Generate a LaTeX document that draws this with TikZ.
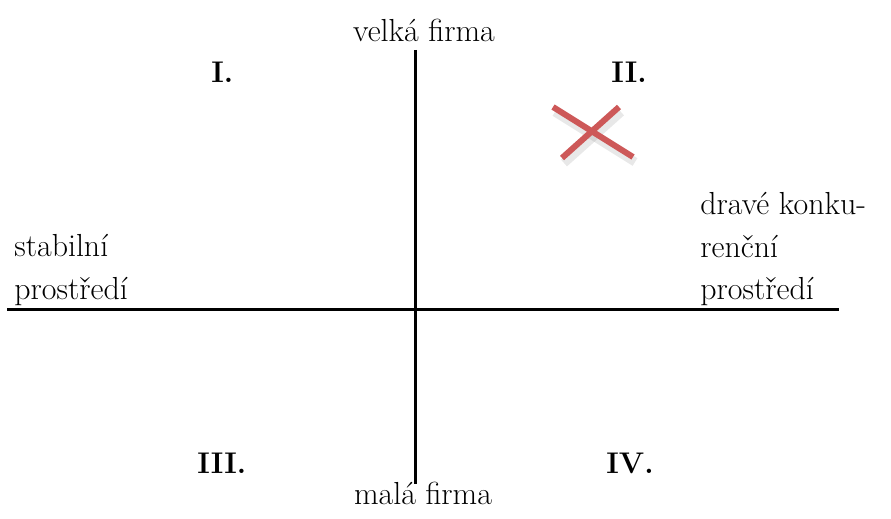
\documentclass[tikz,border=0pt]{standalone}
\usepackage{xcolor}
\definecolor{CrossRed}{HTML}{CD5858}
\definecolor{CrossShade}{HTML}{8A8A8A}
\usetikzlibrary{positioning}

\begin{document}
\begin{tikzpicture}[
  x=0.5bp,y=-0.5bp,
  axis/.style={line width=1.5bp,draw=black},
  lbl/.style={anchor=base west,inner sep=0pt,font=\fontsize{16}{19}\selectfont},
  mid/.style={lbl,anchor=base},
  quad/.style={lbl,font=\fontsize{15}{18}\selectfont\bfseries},
  cross/.style={line width=3bp,draw=CrossRed},
  crossshade/.style={line width=4.5bp,draw=CrossShade,opacity=0.2}
]
  \useasboundingbox (0,0) rectangle (891,519);
  % axes
  \coordinate (top) at (415,50);
  \coordinate (bot) at (415,484);
  \coordinate (left) at (7,310);
  \coordinate (right) at (839,310);
  \draw[axis] (left) -- (right);
  \draw[axis] (top) -- (bot);
  % axis labels
  \node[mid] (big) at (424,42) {velká firma};
  \node[mid] (small) at (423,505) {malá firma};
  \node[lbl] (stab1) at (14,257) {stabilní};
  \node[lbl] (stab2) at (14,300) {prostředí};
  \node[lbl] (drav1) at (700,215) {dravé konku-};
  \node[lbl] (drav2) at (700,258) {renční};
  \node[lbl] (drav3) at (700,300) {prostředí};
  % quadrants
  \node[quad] (q1) at (211,83) {I.};
  \node[quad] (q2) at (611,83) {II.};
  \node[quad] (q3) at (197,474) {III.};
  \node[quad] (q4) at (606,474) {IV.};
  % cross in II.
  \draw[crossshade] (555,112) -- (635,162);
  \draw[crossshade] (621,112) -- (564,163);
  \draw[cross] (553,107) -- (633,157);
  \draw[cross] (619,107) -- (562,158);
\end{tikzpicture}
\end{document}
